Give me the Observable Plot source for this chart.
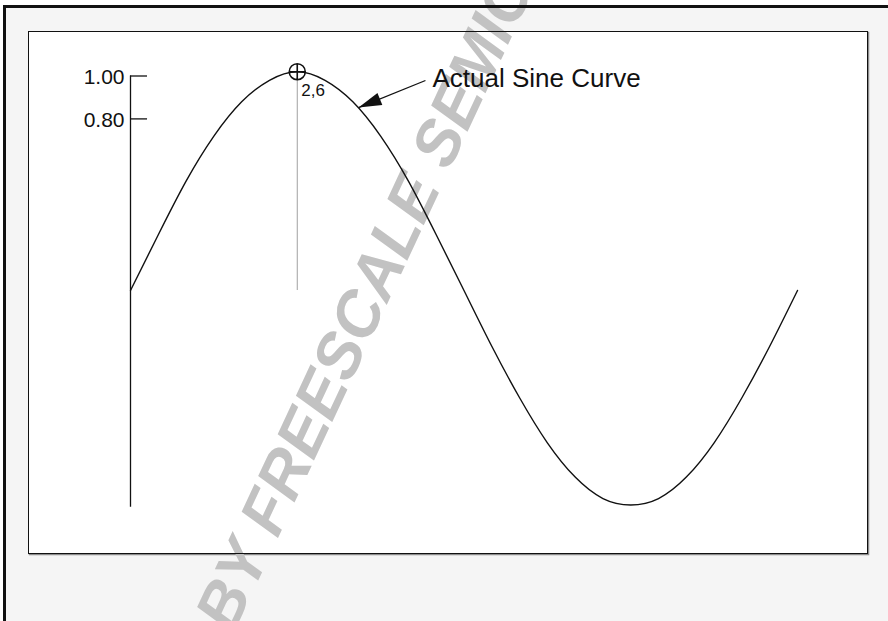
<!DOCTYPE html>
<html>
<head>
<meta charset="utf-8">
<script src="https://cdn.jsdelivr.net/npm/d3@7"></script>
<script src="https://cdn.jsdelivr.net/npm/@observablehq/plot@0.6"></script>
<style>
html, body { margin: 0; padding: 0; background: #ffffff; }
#wrap { position: relative; width: 888px; height: 621px; overflow: hidden; background: #ffffff; }
#paper { position: absolute; left: 3px; top: 5px; width: 885px; height: 616px; background: #f5f5f5; }
#chart { position: absolute; left: 0; top: 0; }
#border { position: absolute; left: 3px; top: 5px; width: 885px; height: 616px; box-sizing: border-box;
  border-top: 3px solid #111; border-left: 3px solid #111; pointer-events: none; }
</style>
</head>
<body>
<div id="wrap">
  <div id="paper"></div>
  <div id="chart"></div>
  <div id="border"></div>
</div>
<script>
// Sine curve (x in degrees, y in relative amplitude)
const degrees = [0, 15, 30, 45, 60, 75, 90, 105, 120, 135, 150, 165, 180,
                 195, 210, 225, 240, 255, 270, 285, 300, 315, 330, 345, 360];
const values  = [0, 0.26, 0.51, 0.72, 0.88, 0.98, 1.02, 0.98, 0.88, 0.72, 0.51, 0.26, 0,
                 -0.26, -0.50, -0.71, -0.87, -0.97, -1.00, -0.97, -0.87, -0.71, -0.50, -0.26, 0];

// Y axis ticks
const tickValues = [1.00, 0.80];
const tickLabels = ["1.00", "0.80"];

// Marked sample point
const pointDeg = [90];
const pointVal = [1.02];
const pointLabel = ["2,6"];

// Callout
const calloutText = ["Actual Sine Curve"];
const calloutDeg = [163.0];
const calloutVal = [0.951];
const arrowFromDeg = [159.2];
const arrowFromVal = [0.979];
const arrowTipDeg = [123.1];
const arrowTipVal = [0.853];

// Watermark
const watermarkText = ["BY FREESCALE SEMICONDUCTOR, INC."];
const watermarkDeg = [55.3];
const watermarkVal = [-1.604];

const curveData = degrees.map((d, i) => ({deg: d, val: values[i]}));
const ticks = tickValues.map((v, i) => ({val: v, label: tickLabels[i]}));
const point = pointDeg.map((d, i) => ({deg: d, val: pointVal[i], label: pointLabel[i]}));
const callout = calloutText.map((t, i) => ({deg: calloutDeg[i], val: calloutVal[i], text: t}));
const arrow = arrowTipDeg.map((d, i) => ({x1: arrowFromDeg[i], y1: arrowFromVal[i], x2: d, y2: arrowTipVal[i]}));
const watermark = watermarkText.map((t, i) => ({deg: watermarkDeg[i], val: watermarkVal[i], text: t}));

const circleCross = {
  draw(ctx) {
    const r = 8;
    ctx.moveTo(r, 0);
    ctx.arc(0, 0, r, 0, 2 * Math.PI);
    ctx.moveTo(-r, 0); ctx.lineTo(r, 0);
    ctx.moveTo(0, -r); ctx.lineTo(0, r);
  }
};
const arrowHead = {
  draw(ctx) {
    ctx.moveTo(0, 0);
    ctx.lineTo(-23, -6.5);
    ctx.lineTo(-23, 6.5);
    ctx.closePath();
  }
};

const font = "'Liberation Sans', Arial, Helvetica, sans-serif";

const chart = Plot.plot({
  width: 888,
  height: 621,
  marginLeft: 28,
  marginTop: 31,
  marginRight: 21,
  marginBottom: 68,
  style: {background: "transparent", fontFamily: font, color: "black"},
  x: {domain: [0, 360], range: [130, 797], axis: null},
  y: {domain: [-1, 1], range: [504.5, 75.5], axis: null},
  marks: [
    Plot.frame({fill: "white", stroke: "#8c8c8c", strokeWidth: 1.5, dx: 1, dy: 1}),
    Plot.frame({fill: "white", stroke: "none"}),
    Plot.text(watermark, {
      x: "deg", y: "val", text: "text",
      rotate: -65, textAnchor: "start", lineAnchor: "bottom",
      fontSize: 64, fontWeight: "bold", fontStyle: "italic",
      fill: "#c2c2c2"
    }),
    Plot.frame({stroke: "#111", strokeWidth: 1}),
    // y axis line, ticks and labels
    Plot.ruleX([0], {y1: -1.01, y2: 1, stroke: "#111", strokeWidth: 1.3}),
    Plot.ruleY(ticks, {y: "val", x1: 0, x2: 9.2, stroke: "#111", strokeWidth: 1.3}),
    Plot.text(ticks, {x: 0, y: "val", text: "label", textAnchor: "end", dx: -6, dy: 1.5, fontSize: 21, fill: "#111"}),
    // vertical guide to marked point
    Plot.ruleX(point, {x: "deg", y1: 0, y2: 0.99, stroke: "#a0a0a0", strokeWidth: 1}),
    // sine curve
    Plot.line(curveData, {x: "deg", y: "val", curve: "natural", stroke: "#111", strokeWidth: 1.4}),
    // marked point
    Plot.dot(point, {x: "deg", y: "val", symbol: circleCross, r: 8, fill: "none", stroke: "#111", strokeWidth: 1.6}),
    Plot.text(point, {x: "deg", y: "val", text: "label", textAnchor: "start", lineAnchor: "bottom", dx: 4, dy: 24, fontSize: 17, fill: "#111"}),
    // callout arrow and label
    Plot.link(arrow, {x1: "x1", y1: "y1", x2: "x2", y2: "y2", stroke: "#111", strokeWidth: 1.3}),
    Plot.dot(arrow, {x: "x2", y: "y2", symbol: arrowHead, rotate: 158, fill: "#111", stroke: "none"}),
    Plot.text(callout, {x: "deg", y: "val", text: "text", textAnchor: "start", lineAnchor: "bottom", fontSize: 26, fill: "#111"})
  ]
});
document.getElementById("chart").appendChild(chart);
</script>
</body>
</html>
